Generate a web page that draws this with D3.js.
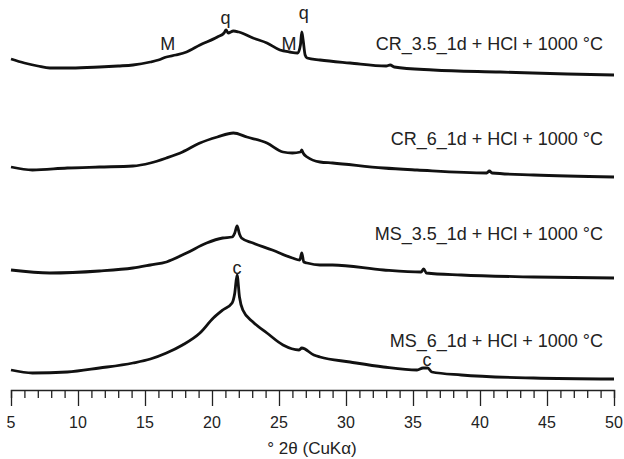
<!DOCTYPE html>
<html>
<head>
<meta charset="utf-8">
<script src="https://cdn.jsdelivr.net/npm/d3@7"></script>
<style>
  body { margin: 0; background: #fff; }
  svg text { font-family: "Liberation Sans", Arial, sans-serif; fill: #222; }
</style>
</head>
<body>
<svg id="chart" width="624" height="459"></svg>
<script>
// XRD patterns, stacked (intensity in arbitrary units, offsets already included)
const twoTheta1 = [5.0, 6.0, 7.0, 7.9, 9.5, 11.6, 13.0, 14.1, 15.4, 16.0, 16.6, 17.3, 18.1, 19.1, 20.4, 20.9, 21.05, 21.2, 21.6, 22.0, 23.06, 24.1, 25.07, 25.8, 26.4, 26.6, 26.7, 26.8, 26.95, 27.1, 28.06, 30.3, 33.0, 33.3, 33.6, 36.5, 41.5, 46.5, 50.0];
const cr35 = [331, 327, 324, 322, 322, 323, 324, 325, 328, 330, 333, 335, 338, 345, 353, 357, 360, 357, 359, 358, 352, 347, 340, 338, 337, 345, 358, 350, 335, 332, 330, 327, 324, 325, 323, 320, 318, 316, 315];

const twoTheta2 = [5.0, 6.6, 9.2, 11.6, 14.1, 15.4, 16.6, 17.8, 19.1, 20.4, 21.6, 22.6, 24.1, 25.3, 26.0, 26.6, 26.7, 26.8, 27.1, 28.06, 29.0, 32.8, 35.3, 40.5, 40.7, 40.9, 44.0, 50.0];
const cr6 = [223, 220, 222, 223, 224, 227, 232, 238, 247, 253, 257, 253, 247, 238, 237, 238, 240, 237, 233, 228, 227, 222, 220, 217, 219, 217, 215, 213];

const twoTheta3 = [5.0, 7.9, 11.6, 14.1, 15.4, 16.6, 18.1, 19.6, 20.8, 21.5, 21.7, 21.87, 22.05, 22.2, 23.06, 24.5, 26.0, 26.55, 26.7, 26.85, 27.1, 28.06, 29.0, 32.8, 35.6, 35.8, 36.0, 38.6, 44.0, 50.0];
const ms35 = [120, 117, 119, 122, 125, 128, 137, 147, 152, 153, 157, 164, 156, 152, 147, 140, 132, 130, 137, 128, 127, 125, 125, 120, 118, 121, 117, 115, 113, 112];

const twoTheta4 = [5.0, 6.6, 9.2, 11.6, 14.1, 15.4, 16.6, 17.8, 19.1, 20.1, 20.8, 21.5, 21.7, 21.87, 22.05, 22.3, 23.06, 24.1, 25.3, 26.5, 26.7, 27.6, 28.06, 30.3, 32.8, 35.3, 35.75, 36.1, 36.4, 38.6, 44.0, 50.0];
const ms6 = [20, 17, 18, 22, 27, 31, 37, 45, 57, 72, 80, 87, 97, 115, 93, 80, 68, 57, 45, 40, 42, 35, 33, 28, 23, 20, 22, 22, 18, 15, 12, 11];

const sampleNames = ['CR_3.5_1d + HCl + 1000 °C', 'CR_6_1d + HCl + 1000 °C', 'MS_3.5_1d + HCl + 1000 °C', 'MS_6_1d + HCl + 1000 °C'];

// phase marks: M, q = quartz, c = cristobalite
const markText = ['M', 'q', 'M', 'q', 'c', 'c'];
const markTheta = [16.7, 21.0, 25.75, 26.85, 21.87, 36.05];
const markInt = [340, 366, 340, 371, 116, 24];

const tickValues = [5, 10, 15, 20, 25, 30, 35, 40, 45, 50];

const svg = d3.select('#chart');

const x = d3.scaleLinear().domain([5, 50]).range([11, 614]);
const y = d3.scaleLinear().domain([0, 380]).range([390, 10]);

const series = [
  {t: twoTheta1, v: cr35},
  {t: twoTheta2, v: cr6},
  {t: twoTheta3, v: ms35},
  {t: twoTheta4, v: ms6}
];

const line = d3.line()
  .curve(d3.curveMonotoneX)
  .x(d => x(d[0]))
  .y(d => y(d[1]));

series.forEach(function(s){
  svg.append('path')
    .attr('d', line(s.t.map((t, i) => [t, s.v[i]])))
    .attr('fill', 'none')
    .attr('stroke', '#111')
    .attr('stroke-width', 2.8)
    .attr('stroke-linejoin', 'round');
});

// sample names, right aligned
const nameY = [50, 145, 240, 347];
sampleNames.forEach(function(n, i){
  svg.append('text')
    .attr('x', 603)
    .attr('y', nameY[i])
    .attr('text-anchor', 'end')
    .attr('font-size', 18)
    .text(n);
});

markText.forEach(function(m, i){
  svg.append('text')
    .attr('x', x(markTheta[i]))
    .attr('y', y(markInt[i]))
    .attr('text-anchor', 'middle')
    .attr('font-size', 18)
    .text(m);
});

// x axis: ticks every degree, longer every 5
const axis = d3.axisBottom(x)
  .tickValues(d3.range(5, 51, 1))
  .tickSize(8)
  .tickFormat('');
const gx = svg.append('g')
  .attr('transform', 'translate(0,390)')
  .call(axis);
gx.select('.domain').attr('stroke', '#222').attr('stroke-width', 1.4);
gx.selectAll('.tick line')
  .attr('stroke', '#222')
  .attr('stroke-width', 1.3)
  .attr('y2', d => d % 5 === 0 ? 16 : 8);

svg.append('g').selectAll('text')
  .data(tickValues)
  .enter().append('text')
  .attr('x', d => x(d))
  .attr('y', 428)
  .attr('text-anchor', 'middle')
  .attr('font-size', 16)
  .text(d => d);

svg.append('text')
  .attr('x', 312)
  .attr('y', 454)
  .attr('text-anchor', 'middle')
  .attr('font-size', 17)
  .text('° 2θ (CuKα)');
</script>
</body>
</html>
